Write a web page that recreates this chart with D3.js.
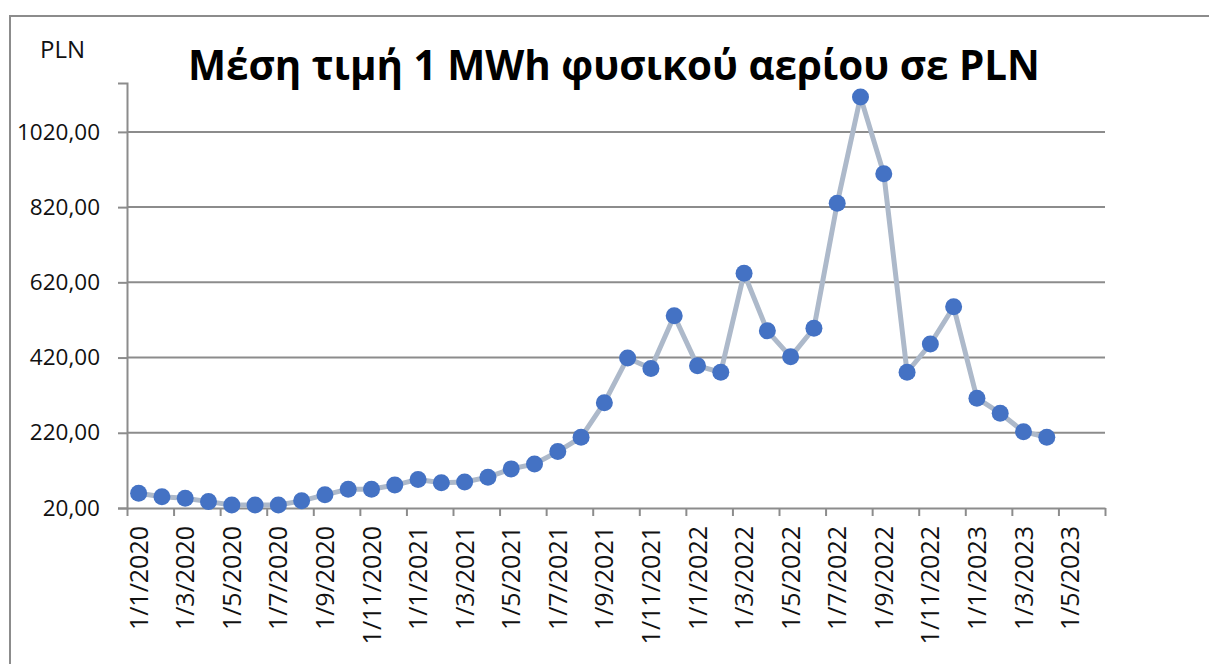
<!DOCTYPE html>
<html>
<head>
<meta charset="utf-8">
<script src="https://cdn.jsdelivr.net/npm/d3@7"></script>
<style>
  html, body { margin: 0; padding: 0; background: #fff; }
  svg { display: block; font-family: "Open Sans", sans-serif; }
</style>
</head>
<body>
<div id="chart"></div>
<script>
///////////// Data /////////////

// every month on the date axis (Jan 2020 .. Jun 2023), only every 2nd one gets a label
const months = [
    "1/1/2020", "1/2/2020", "1/3/2020", "1/4/2020", "1/5/2020", "1/6/2020",
    "1/7/2020", "1/8/2020", "1/9/2020", "1/10/2020", "1/11/2020", "1/12/2020",
    "1/1/2021", "1/2/2021", "1/3/2021", "1/4/2021", "1/5/2021", "1/6/2021",
    "1/7/2021", "1/8/2021", "1/9/2021", "1/10/2021", "1/11/2021", "1/12/2021",
    "1/1/2022", "1/2/2022", "1/3/2022", "1/4/2022", "1/5/2022", "1/6/2022",
    "1/7/2022", "1/8/2022", "1/9/2022", "1/10/2022", "1/11/2022", "1/12/2022",
    "1/1/2023", "1/2/2023", "1/3/2023", "1/4/2023", "1/5/2023", "1/6/2023"
];

// average price of 1 MWh of gas in PLN (Jan 2020 .. Apr 2023)
const prices = [
    59, 50, 46, 37, 28, 28, 28, 39, 55, 70, 70, 81,
    96, 87, 89, 102, 124, 137, 170, 208, 300, 419, 391, 531,
    398, 381, 644, 491, 422, 498, 830, 1113, 909, 381, 456, 555,
    312, 272, 223, 208
];

const yTicks = [20, 220, 420, 620, 820, 1020];

const titleText = "Μέση τιμή 1 MWh φυσικού αερίου σε PLN";
const unitText = "PLN";

///////////// Layout /////////////
const width = 1209;
const height = 664;
const plot = { left: 127, right: 1105, top: 83, bottom: 508 };

const svg = d3
    .select("#chart")
    .append("svg")
    .attr("width", width)
    .attr("height", height);

// outer chart frame (runs off the right and bottom of the picture)
svg.append("rect")
    .attr("x", 10)
    .attr("y", 16)
    .attr("width", width + 20)
    .attr("height", height + 20)
    .attr("fill", "none")
    .attr("stroke", "#8c8c8c")
    .attr("stroke-width", 2);

///////////// Scales /////////////
const x = d3
    .scaleBand()
    .domain(months)
    .range([plot.left, plot.right])
    .padding(0);

// index scale used for the tick marks on the month boundaries
const xIdx = d3
    .scaleLinear()
    .domain([0, months.length])
    .range([plot.left, plot.right]);

const y = d3
    .scaleLinear()
    .domain([20, 1150])
    .range([plot.bottom, plot.top]);

const fmt = (v) => d3.format(".2f")(v).replace(".", ",");

///////////// Gridlines + axes /////////////
svg.append("g")
    .attr("class", "grid")
    .selectAll("line")
    .data(yTicks.slice(1))
    .enter()
    .append("line")
    .attr("x1", plot.left)
    .attr("x2", plot.right)
    .attr("y1", (d) => y(d))
    .attr("y2", (d) => y(d))
    .attr("stroke", "#8c8c8c")
    .attr("stroke-width", 2);

let yAxis = svg.append("g")
    .attr("transform", `translate(${plot.left},0)`)
    .call(d3.axisLeft(y).tickValues(yTicks).tickSize(9).tickPadding(18).tickFormat(fmt));

yAxis.select(".domain").attr("stroke", "#8c8c8c").attr("stroke-width", 2);
yAxis.selectAll(".tick line").attr("stroke", "#8c8c8c").attr("stroke-width", 2);
yAxis.selectAll(".tick text")
    .attr("font-size", 22.5)
    .attr("font-family", "Open Sans, sans-serif")
    .attr("fill", "#111");

// tick marks every two months
let xTickAxis = svg.append("g")
    .attr("transform", `translate(0,${plot.bottom})`)
    .call(d3.axisBottom(xIdx)
        .tickValues(d3.range(0, months.length + 1, 2))
        .tickSize(8)
        .tickSizeOuter(0)
        .tickFormat(""));

xTickAxis.select(".domain").attr("stroke", "#8c8c8c").attr("stroke-width", 2);
xTickAxis.selectAll(".tick line").attr("stroke", "#8c8c8c").attr("stroke-width", 2);

// month labels under the band centres, rotated
let xLabelAxis = svg.append("g")
    .attr("transform", `translate(0,${plot.bottom})`)
    .call(d3.axisBottom(x)
        .tickValues(months.filter((d, i) => i % 2 === 0))
        .tickSize(0)
        .tickSizeOuter(0));

xLabelAxis.select(".domain").remove();
xLabelAxis.selectAll(".tick text")
    .attr("font-size", 25)
    .attr("font-family", "Open Sans, sans-serif")
    .attr("fill", "#111")
    .attr("text-anchor", "end")
    .attr("transform", "rotate(-90)")
    .attr("x", -18)
    .attr("y", 0)
    .attr("dy", "0.36em");

///////////// Series /////////////
const series = prices.map((v, i) => ({ month: months[i], value: v }));

const line = d3
    .line()
    .x((d) => x(d.month) + x.bandwidth() / 2)
    .y((d) => y(d.value));

svg.append("path")
    .datum(series)
    .attr("d", line)
    .attr("fill", "none")
    .attr("stroke", "#adb9ca")
    .attr("stroke-width", 5)
    .attr("stroke-linejoin", "round");

svg.append("g")
    .selectAll("circle")
    .data(series)
    .enter()
    .append("circle")
    .attr("cx", (d) => x(d.month) + x.bandwidth() / 2)
    .attr("cy", (d) => y(d.value))
    .attr("r", 8.5)
    .attr("fill", "#4472c4");

///////////// Titles /////////////
let title = svg.append("text")
    .attr("x", 614)
    .attr("y", 80)
    .attr("text-anchor", "middle")
    .attr("font-weight", "bold")
    .attr("font-size", 40)
    .attr("fill", "#000")
    .text(titleText);

// fit the title to the width it takes in the original (~852px)
let tl = title.node().getComputedTextLength();
title.attr("font-size", 40 * 852 / tl);

svg.append("text")
    .attr("x", 40)
    .attr("y", 58)
    .attr("font-size", 24)
    .attr("fill", "#111")
    .text(unitText);
</script>
</body>
</html>
